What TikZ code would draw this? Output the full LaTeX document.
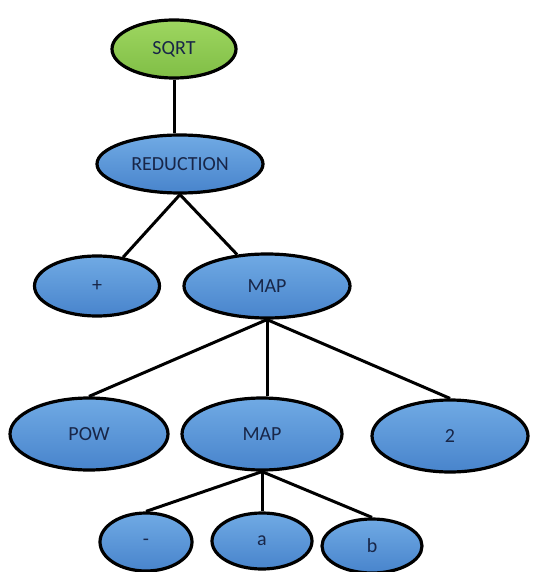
\documentclass[tikz,border=0pt]{standalone}
\usepackage{fontspec}
\setmainfont{Carlito}
\usetikzlibrary{shapes.geometric}
\definecolor{nodetext}{RGB}{24,38,72}
\tikzset{
  tnode/.style={ellipse, draw=black, line width=3.2pt, inner sep=0pt,
    top color={rgb,255:red,112;green,170;blue,228},
    bottom color={rgb,255:red,72;green,132;blue,204},
    text=nodetext, font=\fontsize{20}{22}\selectfont},
  root/.style={tnode, top color={rgb,255:red,158;green,214;blue,96},
    bottom color={rgb,255:red,128;green,190;blue,70}},
  edge/.style={line width=3pt, black}
}
\begin{document}
\begin{tikzpicture}[x=1pt, y=-1pt]
  \useasboundingbox (0,0) rectangle (542,572);
  \node[root, minimum width=124pt, minimum height=58pt] (sqrt) at (174,49) {SQRT};
  \node[tnode, minimum width=166pt, minimum height=58pt] (red) at (180,164) {REDUCTION};
  \node[tnode, minimum width=125pt, minimum height=60pt] (plus) at (97,286) {+};
  \node[tnode, minimum width=166pt, minimum height=64pt] (map1) at (267,286) {MAP};
  \node[tnode, minimum width=158pt, minimum height=72pt] (pow) at (89,434) {POW};
  \node[tnode, minimum width=160pt, minimum height=72pt] (map2) at (262,434) {MAP};
  \node[tnode, minimum width=156pt, minimum height=72pt] (two) at (450,436) {2};
  \node[tnode, minimum width=92pt, minimum height=58pt] (minus) at (146,542) {-};
  \node[tnode, minimum width=100pt, minimum height=56pt] (a) at (262,541) {a};
  \node[tnode, minimum width=100pt, minimum height=54pt] (b) at (372,546) {b};
  \draw[edge] (sqrt.south) -- (sqrt.south |- red.north);
  \draw[edge] (red.south) -- (plus);
  \draw[edge] (red.south) -- (map1);
  \draw[edge] (map1.south) -- (pow.north);
  \draw[edge] (map1.south) -- (map1.south |- map2.north);
  \draw[edge] (map1.south) -- (two.north);
  \draw[edge] (map2.south) -- (minus.north);
  \draw[edge] (map2.south) -- (map2.south |- a.north);
  \draw[edge] (map2.south) -- (b.north);
\end{tikzpicture}
\end{document}
